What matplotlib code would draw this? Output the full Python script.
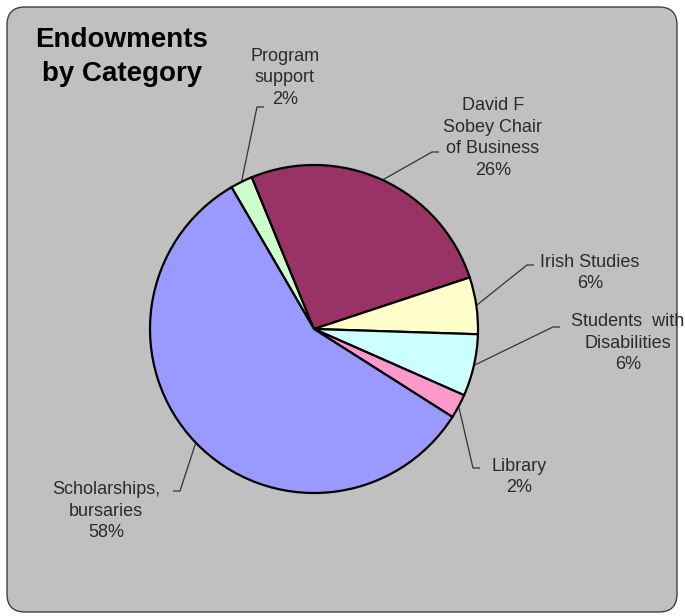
import numpy as np
import matplotlib
matplotlib.use("Agg")
import matplotlib.pyplot as plt
import matplotlib.patches as patches

# slice data, clockwise from the top-left
categories = ["Program\nsupport", "David F\nSobey Chair\nof Business", "Irish Studies",
              "Students  with\nDisabilities", "Library", "Scholarships,\nbursaries"]
shares = [2.2, 26.1, 5.6, 6.1, 2.4, 57.6]
pct_labels = ["2%", "26%", "6%", "6%", "2%", "58%"]
colors = ["#CCFFCC", "#993366", "#FFFFCC", "#CCFFFF", "#FF99CC", "#9999FF"]

# layout (pixels, origin top-left)
W, H = 685, 616
PIE_CX, PIE_CY, PIE_R = 314, 329, 164
# elbow point of each leader, direction of the short tick, and text centre
elbows = [(257, 107), (432, 152), (527, 265), (553, 327), (473, 468), (180, 491)]
tick_dir = [1, 1, 1, 1, 1, -1]
text_pos = [(285, 78), (493, 138), (590, 273), (628, 343), (519, 477), (106, 511)]

TXT = "#2b2b2b"
plt.rcParams["font.family"] = ["Liberation Sans", "DejaVu Sans"]

fig = plt.figure(figsize=(W / 100, H / 100), dpi=100)
bg = fig.add_axes([0, 0, 1, 1])
bg.set_xlim(0, W)
bg.set_ylim(H, 0)
bg.axis("off")

frame = patches.FancyBboxPatch((7, 7), W - 8 - 7, H - 4 - 7,
                               boxstyle="round,pad=0,rounding_size=18",
                               facecolor="#C0C0C0", edgecolor="#404040", linewidth=1.0)
bg.add_patch(frame)

bg.text(122, 57, "Endowments\nby Category", ha="center", va="center",
        fontsize=20, fontweight="bold", color="black", linespacing=1.36)

ax = fig.add_axes([(PIE_CX - PIE_R) / W, (H - PIE_CY - PIE_R) / H,
                   2 * PIE_R / W, 2 * PIE_R / H])
ax.set_facecolor("none")
wedges, _ = ax.pie(shares, colors=colors, startangle=120.2, counterclock=False,
                   radius=1, wedgeprops=dict(edgecolor="black", linewidth=1.6))
ax.set_xlim(-1, 1)
ax.set_ylim(-1, 1)
ax.set_aspect("equal")
ax.axis("off")

for w, cat, pct, (ex, ey), d, (tx, ty) in zip(wedges, categories, pct_labels,
                                              elbows, tick_dir, text_pos):
    mid = np.deg2rad((w.theta1 + w.theta2) / 2)
    px = PIE_CX + PIE_R * np.cos(mid)
    py = PIE_CY - PIE_R * np.sin(mid)
    bg.plot([px, ex, ex + 7 * d], [py, ey, ey], color="#333333", lw=0.9,
            solid_capstyle="butt")
    bg.text(tx, ty, cat + "\n" + pct, ha="center", va="center", fontsize=13,
            color=TXT, linespacing=1.38)

fig.savefig("out.png", dpi=100)
